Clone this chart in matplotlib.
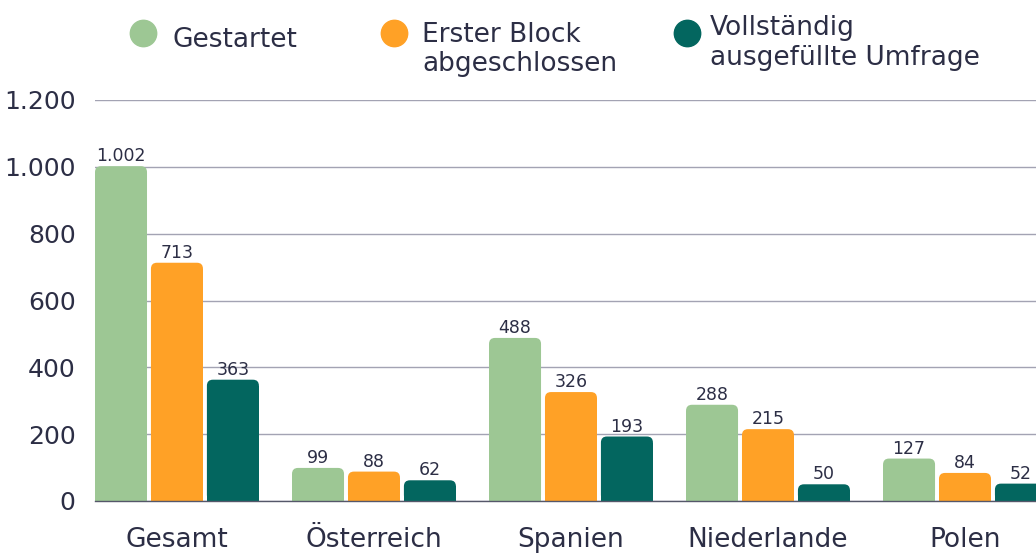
import matplotlib
matplotlib.use("Agg")
import matplotlib.pyplot as plt
from matplotlib.patches import FancyBboxPatch, Rectangle
from matplotlib.ticker import FuncFormatter
import numpy as np

plt.rcParams['font.family'] = ['DejaVu Sans']

# data
categories = ['Gesamt', 'Österreich', 'Spanien', 'Niederlande', 'Polen']
series_names = ['Gestartet', 'Erster Block abgeschlossen', 'Vollständig ausgefüllte Umfrage']
legend_lines = [['Gestartet'], ['Erster Block', 'abgeschlossen'], ['Vollständig', 'ausgefüllte Umfrage']]
gestartet = [1002, 99, 488, 288, 127]
erster_block = [713, 88, 326, 215, 84]
vollstaendig = [363, 62, 193, 50, 52]
y_ticks = [0, 200, 400, 600, 800, 1000, 1200]

colors = ['#9dc794', '#ffa126', '#03665f']
text_col = '#2c2e45'

W, H = 1036, 553
fig = plt.figure(figsize=(W / 100, H / 100), dpi=100)

# axes in pixel terms
ax_left, ax_bottom_px, ax_top_px = 95, 501, 100
ax = fig.add_axes([ax_left / W, 1 - ax_bottom_px / H, 1 - ax_left / W, (ax_bottom_px - ax_top_px) / H])

bar_w = 0.264
step = 0.284
x = np.arange(len(categories))
xlim = (-step - bar_w / 2, (W - 177) / 197.)
ax.set_xlim(*xlim)
ax.set_ylim(0, 1200)

px_x = (xlim[1] - xlim[0]) / (W - ax_left)
px_y = 1200 / (ax_bottom_px - ax_top_px)
aspect = px_y / px_x
r_px = 6

for k, vals in enumerate([gestartet, erster_block, vollstaendig]):
  for i, v in enumerate(vals):
    xc = x[i] + (k - 1) * step
    left = xc - bar_w / 2
    ry = r_px * px_y
    p = FancyBboxPatch((left, 0), bar_w, v,
                       boxstyle='round,pad=0,rounding_size=%f' % (r_px * px_x),
                       mutation_aspect=aspect, fc=colors[k], ec='none', zorder=3)
    ax.add_patch(p)
    ax.add_patch(Rectangle((left, 0), bar_w, max(v - ry, 0), fc=colors[k], ec='none', zorder=3))
    lab = '{:,}'.format(v).replace(',', '.')
    ax.text(xc, v + 5 * px_y, lab, ha='center', va='baseline', fontsize=12.5, color=text_col, zorder=4)

ax.set_yticks(y_ticks)
ax.yaxis.set_major_formatter(FuncFormatter(lambda v, p: '{:,}'.format(int(v)).replace(',', '.')))
ax.set_xticks(x)
ax.set_xticklabels(categories)
ax.tick_params(axis='both', length=0, colors=text_col)
ax.tick_params(axis='y', pad=14, labelsize=18)
ax.tick_params(axis='x', pad=19, labelsize=19)
ax.grid(axis='y', color='#a3a3b3', linewidth=1, zorder=0)
for s in ['top', 'right', 'left']:
  ax.spines[s].set_visible(False)
ax.spines['bottom'].set_color('#55576a')
ax.spines['bottom'].set_linewidth(1)
ax.spines['bottom'].set_zorder(5)

# legend drawn by hand
marker_pos = [(143, 33), (394, 33), (687, 33)]
text_x = [172, 422, 710]
text_base = [[47], [42, 71], [35, 65]]
for k in range(3):
  mx, my = marker_pos[k]
  fig.add_artist(plt.Line2D([mx / W], [1 - my / H], marker='o', markersize=19, color=colors[k],
                            linestyle='none', transform=fig.transFigure))
  for line, yb in zip(legend_lines[k], text_base[k]):
    fig.text(text_x[k] / W, 1 - yb / H, line, ha='left', va='baseline', fontsize=19, color=text_col)

fig.savefig('out.png', dpi=100)
